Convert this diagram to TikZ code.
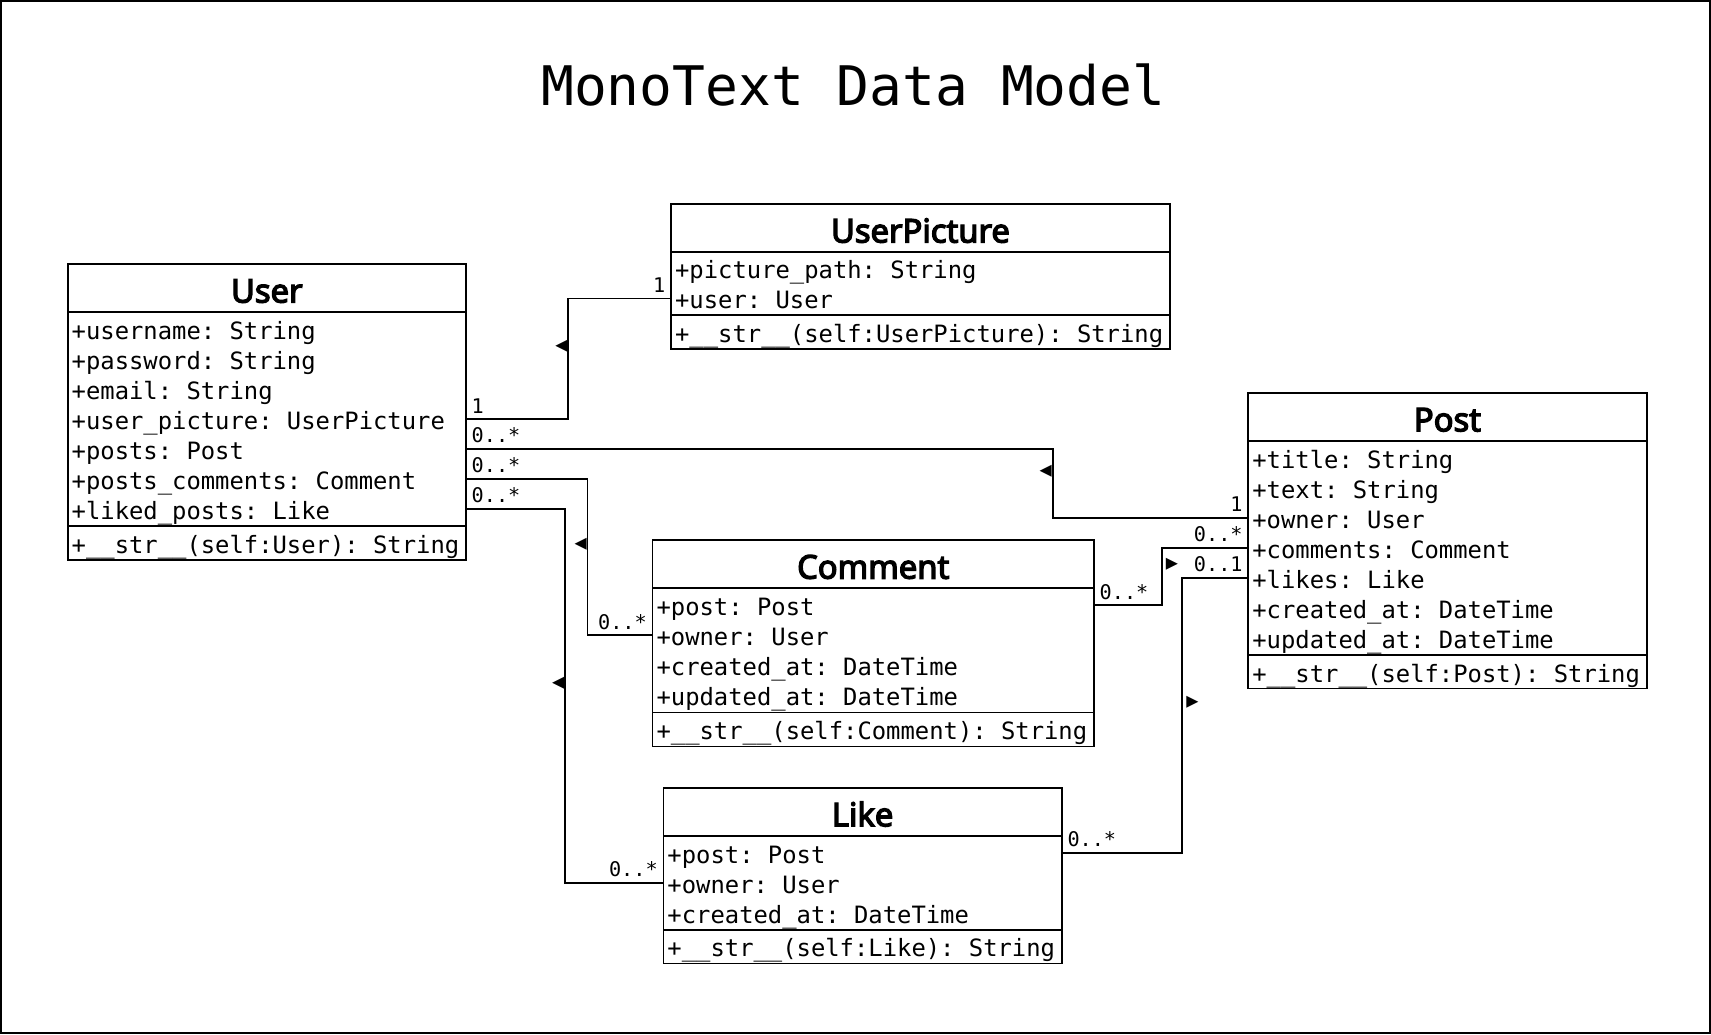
\documentclass[tikz,border=0pt]{standalone}
\usepackage{fontspec}
\setmonofont{DejaVu Sans Mono}
\newfontfamily\headfont{Noto Sans}[FakeBold=4]

\begin{document}
\begin{tikzpicture}[x=1pt,y=-1pt,
	classhead/.style={draw, line width=1.6pt, inner sep=0pt, outer sep=0pt, text height=26.5pt, text depth=0pt, font=\headfont\fontsize{30}{35}\selectfont},
	classpart/.style={draw, line width=1.6pt, inner sep=0pt, outer sep=0pt},
	member/.style={anchor=west, inner sep=0pt, text height=19pt, text depth=0pt, font=\ttfamily\fontsize{21.85}{26}\selectfont},
	mult/.style={inner sep=4.5pt, font=\ttfamily\fontsize{18.5}{20}\selectfont},
	dirmark/.style={inner sep=0pt, font=\ttfamily\fontsize{18.5}{20}\selectfont},
	assoc/.style={line width=1.6pt}]
	\useasboundingbox (0,0) rectangle (1568,948);
	\draw[line width=2pt] (1,1) rectangle (1567,947);
	\node[font=\ttfamily\fontsize{50}{60}\selectfont] (title) at (782,78) {MonoText Data Model};

	% User
	\node[classhead, minimum width=365pt, minimum height=44pt] (user) at (244.5,264) {User};
	\node[classpart, minimum width=365pt, minimum height=196pt, anchor=north] (user-attr) at (user.south) {};
	\node[classpart, minimum width=365pt, minimum height=31pt, anchor=north] (user-meth) at (user-attr.south) {};
	\node[member] (user-uname) at (65.5,301.5) {+username: String};
	\node[member] (user-pwd) at (65.5,329) {+password: String};
	\node[member] (user-email) at (65.5,356.5) {+email: String};
	\node[member] (user-upic) at (65.5,384) {+user\_picture: UserPicture};
	\node[member] (user-posts) at (65.5,411.5) {+posts: Post};
	\node[member] (user-pcom) at (65.5,439) {+posts\_comments: Comment};
	\node[member] (user-liked) at (65.5,466.5) {+liked\_posts: Like};
	\node[member] (user-str) at (65.5,497.5) {+\_\_str\_\_(self:User): String};

	% UserPicture
	\node[classhead, minimum width=457pt, minimum height=44pt] (upic) at (843.5,209) {UserPicture};
	\node[classpart, minimum width=457pt, minimum height=58pt, anchor=north] (upic-attr) at (upic.south) {};
	\node[classpart, minimum width=457pt, minimum height=31pt, anchor=north] (upic-meth) at (upic-attr.south) {};
	\node[member] (upic-path) at (618.5,246) {+picture\_path: String};
	\node[member] (upic-user) at (618.5,273.5) {+user: User};
	\node[member] (upic-str) at (618.5,304.5) {+\_\_str\_\_(self:UserPicture): String};

	% Post
	\node[classhead, minimum width=365pt, minimum height=44pt] (post) at (1326.5,382) {Post};
	\node[classpart, minimum width=365pt, minimum height=196pt, anchor=north] (post-attr) at (post.south) {};
	\node[classpart, minimum width=365pt, minimum height=31pt, anchor=north] (post-meth) at (post-attr.south) {};
	\node[member] (post-title) at (1147.5,419.5) {+title: String};
	\node[member] (post-text) at (1147.5,447) {+text: String};
	\node[member] (post-owner) at (1147.5,474.5) {+owner: User};
	\node[member] (post-comments) at (1147.5,502) {+comments: Comment};
	\node[member] (post-likes) at (1147.5,529.5) {+likes: Like};
	\node[member] (post-created) at (1147.5,557) {+created\_at: DateTime};
	\node[member] (post-updated) at (1147.5,584.5) {+updated\_at: DateTime};
	\node[member] (post-str) at (1147.5,615.5) {+\_\_str\_\_(self:Post): String};

	% Comment
	\node[classhead, minimum width=404.5pt, minimum height=44pt] (comment) at (800.25,517) {Comment};
	\node[classpart, minimum width=404.5pt, minimum height=114pt, anchor=north] (comment-attr) at (comment.south) {};
	\node[classpart, minimum width=404.5pt, minimum height=31pt, anchor=north] (comment-meth) at (comment-attr.south) {};
	\node[member] (comment-post) at (601.5,554.75) {+post: Post};
	\node[member] (comment-owner) at (601.5,582.25) {+owner: User};
	\node[member] (comment-created) at (601.5,609.75) {+created\_at: DateTime};
	\node[member] (comment-updated) at (601.5,637.25) {+updated\_at: DateTime};
	\node[member] (comment-str) at (601.5,668.5) {+\_\_str\_\_(self:Comment): String};

	% Like
	\node[classhead, minimum width=365pt, minimum height=44pt] (like) at (790.5,744) {Like};
	\node[classpart, minimum width=365pt, minimum height=86pt, anchor=north] (like-attr) at (like.south) {};
	\node[classpart, minimum width=365pt, minimum height=31pt, anchor=north] (like-meth) at (like-attr.south) {};
	\node[member] (like-post) at (611.5,781.5) {+post: Post};
	\node[member] (like-owner) at (611.5,809) {+owner: User};
	\node[member] (like-created) at (611.5,836.5) {+created\_at: DateTime};
	\node[member] (like-str) at (611.5,867.5) {+\_\_str\_\_(self:Like): String};

	% associations
	\draw[assoc] (user.east |- user-upic) node[mult, anchor=south west] {1} -- ++(93.8,0)
		|- node[dirmark, anchor=east, pos=0.3] {◀} (upic.west |- upic-user) node[mult, anchor=south east] {1};
	\draw[assoc] (user.east |- user-posts) node[mult, anchor=south west] {0..*} -- ++(537.7,0)
		|- node[dirmark, anchor=east, pos=0.163] {◀} (post.west |- post-owner) node[mult, anchor=south east] {1};
	\draw[assoc] (user.east |- user-pcom) node[mult, anchor=south west] {0..*} -- ++(111.5,0)
		|- node[dirmark, anchor=east, pos=0.21] {◀} (comment.west |- comment-owner) node[mult, anchor=south east] {0..*};
	\draw[assoc] (user.east |- user-liked) node[mult, anchor=south west] {0..*} -- ++(90.8,0)
		|- node[dirmark, anchor=east, pos=0.233] {◀} (like.west |- like-owner) node[mult, anchor=south east] {0..*};
	\draw[assoc] (comment.east |- comment-post) node[mult, anchor=south west] {0..*} -- ++(62.1,0)
		|- node[dirmark, anchor=west, pos=0.358, xshift=3pt] {▶} (post.west |- post-comments) node[mult, anchor=south east] {0..*};
	\draw[assoc] (like.east |- like-post) node[mult, anchor=south west] {0..*} -- ++(110.4,0)
		|- node[dirmark, anchor=west, pos=0.273, xshift=3pt] {▶} (post.west |- post-likes) node[mult, anchor=south east] {0..1};
\end{tikzpicture}
\end{document}
